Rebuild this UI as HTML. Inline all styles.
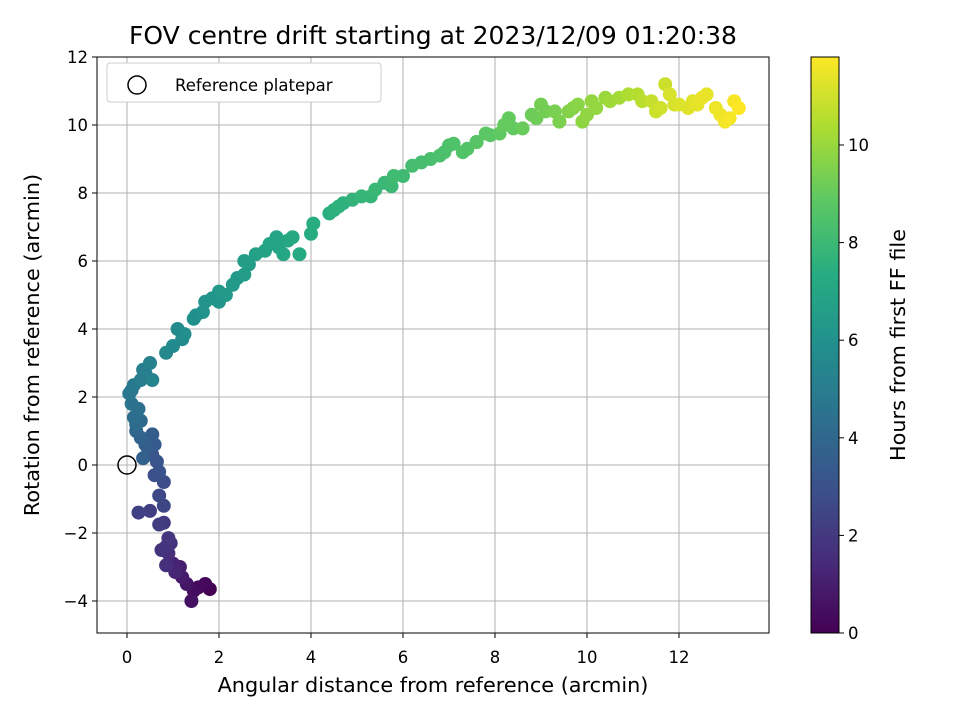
<!DOCTYPE html>
<html><head><meta charset="utf-8"><style>
body{margin:0;background:#fff;}
svg text{font-family:"DejaVu Sans","Liberation Sans",sans-serif;}
</style></head><body>
<svg id="chart" width="960" height="720" xmlns="http://www.w3.org/2000/svg">
<text x="433" y="44" text-anchor="middle" font-size="25">FOV centre drift starting at 2023/12/09 01:20:38</text>
<g id="grid"></g>
<g id="pts"></g>
<circle id="refpt" r="9" fill="none" stroke="#000" stroke-width="1.5"/>
<rect x="97" y="57" width="672" height="576" fill="none" stroke="#000" stroke-width="1"/>
<g id="xticks"></g>
<g id="yticks"></g>
<text x="433" y="692" text-anchor="middle" font-size="20.8">Angular distance from reference (arcmin)</text>
<text transform="translate(39,345) rotate(-90)" text-anchor="middle" font-size="20.8">Rotation from reference (arcmin)</text>
<g>
<rect x="107" y="63" width="274" height="39" rx="3" fill="#fff" stroke="#ccc"/>
<circle cx="137" cy="85" r="9" fill="none" stroke="#000" stroke-width="1.5"/>
<text x="175" y="91" font-size="16.5">Reference platepar</text>
</g>
<defs><linearGradient id="vir" x1="0" y1="1" x2="0" y2="0"><stop offset="0" stop-color="#440154"/><stop offset="0.125" stop-color="#472c7a"/><stop offset="0.25" stop-color="#3b518b"/><stop offset="0.375" stop-color="#2c718e"/><stop offset="0.5" stop-color="#21908d"/><stop offset="0.625" stop-color="#27ad81"/><stop offset="0.75" stop-color="#5cc863"/><stop offset="0.875" stop-color="#aadc32"/><stop offset="1" stop-color="#fde725"/></linearGradient></defs>
<rect x="811" y="57" width="28" height="576" fill="url(#vir)" stroke="#000" stroke-width="1"/>
<g id="cticks"></g>
<text transform="translate(905,345) rotate(-90)" text-anchor="middle" font-size="20.8">Hours from first FF file</text>
</svg>
<script>
const xs=[1.8,1.7,1.45,1.4,1.3,1.2,1.1,1.0,1.05,0.9,0.85,0.95,0.75,0.9,0.8,0.7,0.5,0.25,0.8,0.7,0.8,0.7,0.65,0.55,0.6,0.55,0.4,0.3,0.2,0.3,0.15,0.25,0.1,0.05,0.15,0.3,0.35,0.5,0.55,0.85,1.0,1.1,1.25,1.45,1.65,1.7,2.0,2.0,2.3,2.55,2.55,2.8,3.0,3.25,3.4,3.6,3.75,4.0,4.05,4.4,4.6,4.9,5.3,5.4,5.75,5.8,6.2,6.6,6.9,7.1,7.4,7.6,7.8,8.1,8.3,8.6,8.9,9.1,9.3,9.6,9.8,9.9,10.2,10.4,10.7,10.9,11.2,11.4,11.6,11.8,12.0,12.3,12.6,12.8,13.0,13.2,13.3,1.55,1.15,0.85,0.45,0.35,0.2,0.1,0.4,1.2,1.85,2.15,2.65,3.1,3.5,4.7,5.1,6.0,6.4,7.0,7.3,7.9,8.4,8.8,9.4,9.7,10.0,10.5,11.1,11.7,11.9,12.2,12.5,12.9,13.1,0.6,1.5,2.4,3.3,4.5,5.6,6.8,7.6,8.2,9.0,10.1,11.5,12.4];
const ys=[-3.65,-3.5,-3.7,-4.0,-3.5,-3.3,-3.1,-2.9,-3.15,-2.6,-2.95,-2.3,-2.5,-2.15,-1.7,-1.75,-1.35,-1.4,-1.2,-0.9,-0.5,-0.2,0.1,0.3,0.6,0.9,0.6,0.8,1.0,1.3,1.4,1.65,1.8,2.1,2.35,2.5,2.8,3.0,2.5,3.3,3.5,4.0,3.85,4.3,4.5,4.8,4.8,5.1,5.3,5.6,6.0,6.2,6.3,6.7,6.2,6.7,6.2,6.8,7.1,7.4,7.6,7.8,7.9,8.1,8.2,8.5,8.8,9.0,9.2,9.45,9.3,9.5,9.75,9.75,10.2,9.9,10.2,10.4,10.4,10.4,10.6,10.1,10.5,10.8,10.8,10.9,10.7,10.7,10.5,10.9,10.6,10.7,10.9,10.5,10.1,10.7,10.5,-3.6,-3.0,-2.4,0.5,0.2,1.2,2.2,2.7,3.7,4.9,5.0,5.9,6.5,6.6,7.7,7.9,8.5,8.9,9.4,9.2,9.7,9.9,10.3,10.1,10.5,10.3,10.7,10.9,11.2,10.6,10.5,10.8,10.3,10.2,-0.3,4.4,5.5,6.4,7.5,8.3,9.1,9.5,10.0,10.6,10.7,10.4,10.6];
const hours=[0,0.2,0.4,0.5,0.7,0.9,1.1,1.2,1.3,1.5,1.6,1.7,1.8,1.9,2.0,2.1,2.2,2.3,2.5,2.6,2.8,3.0,3.1,3.2,3.4,3.5,3.6,3.8,3.9,4.1,4.3,4.4,4.5,4.7,4.8,5.0,5.1,5.2,5.3,5.5,5.6,5.7,5.8,5.9,6.0,6.1,6.2,6.3,6.4,6.5,6.6,6.7,6.8,6.9,7.0,7.1,7.2,7.3,7.4,7.5,7.6,7.7,7.8,7.9,8.0,8.1,8.2,8.3,8.4,8.5,8.6,8.7,8.8,8.9,9.0,9.1,9.2,9.3,9.4,9.6,9.7,9.8,9.9,10.0,10.2,10.4,10.6,10.8,11.0,11.1,11.2,11.3,11.4,11.5,11.6,11.7,11.8,0.3,1.0,1.75,3.3,3.7,4.2,4.6,5.05,5.65,6.15,6.35,6.55,6.85,7.05,7.55,7.8,8.05,8.25,8.45,8.55,8.75,8.95,9.15,9.45,9.65,9.85,10.1,10.5,10.9,11.05,11.25,11.45,11.55,11.65,2.9,5.9,6.4,6.9,7.5,7.9,8.4,8.7,9.0,9.3,9.9,10.9,11.4];
const xTicks=[0,2,4,6,8,10,12];
const yTicks=[-4,-2,0,2,4,6,8,10,12];
const cTicks=[0,2,4,6,8,10];
const X=v=>127+v*46, Y=v=>465-v*34, C=v=>633-v*48.8;
const VIR=[[68,1,84],[71,44,122],[59,81,139],[44,113,142],[33,144,141],[39,173,129],[92,200,99],[170,220,50],[253,231,37]];
function vir(t){t=Math.max(0,Math.min(1,t))*8;const i=Math.min(7,Math.floor(t)),f=t-i;const a=VIR[i],b=VIR[i+1];return `rgb(${a.map((c,k)=>Math.round(c+(b[k]-c)*f)).join(',')})`;}
const NS="http://www.w3.org/2000/svg";
function mk(tag,attrs,parent){const e=document.createElementNS(NS,tag);for(const k in attrs)e.setAttribute(k,attrs[k]);parent.appendChild(e);return e;}
const grid=document.getElementById('grid'),xt=document.getElementById('xticks'),yt=document.getElementById('yticks'),ct=document.getElementById('cticks'),pts=document.getElementById('pts');
xTicks.forEach(v=>{const g=mk('line',{x1:X(v),x2:X(v),y1:57,y2:633,stroke:'#b0b0b0','stroke-width':1},grid);


const tk=mk('line',{x1:X(v),x2:X(v),y1:633,y2:638,stroke:'#000'},xt);


const t=mk('text',{x:X(v),y:663,'text-anchor':'middle','font-size':'16.5'},xt);t.textContent=String(v);

});
yTicks.forEach(v=>{const g=mk('line',{x1:97,x2:769,y1:Y(v),y2:Y(v),stroke:'#b0b0b0','stroke-width':1},grid);


const tk=mk('line',{x1:92,x2:97,y1:Y(v),y2:Y(v),stroke:'#000'},yt);


const t=mk('text',{x:88,y:Y(v)+6,'text-anchor':'end','font-size':'16.5'},yt);t.textContent=(v<0?'\u2212':'')+Math.abs(v);

});
cTicks.forEach(v=>{const tk=mk('line',{x1:839,x2:844,y1:C(v),y2:C(v),stroke:'#000'},ct);


const t=mk('text',{x:848,y:C(v)+6,'font-size':'16.5'},ct);t.textContent=String(v);

});
const order=hours.map((h,i)=>i).sort((a,b)=>hours[a]-hours[b]);
order.forEach(i=>{const c=mk('circle',{cx:X(xs[i]),cy:Y(ys[i]),r:7,fill:vir(hours[i]/11.8)},pts);

});
const r=document.getElementById('refpt');r.setAttribute('cx',X(0));r.setAttribute('cy',Y(0));
</script>
</body></html>
